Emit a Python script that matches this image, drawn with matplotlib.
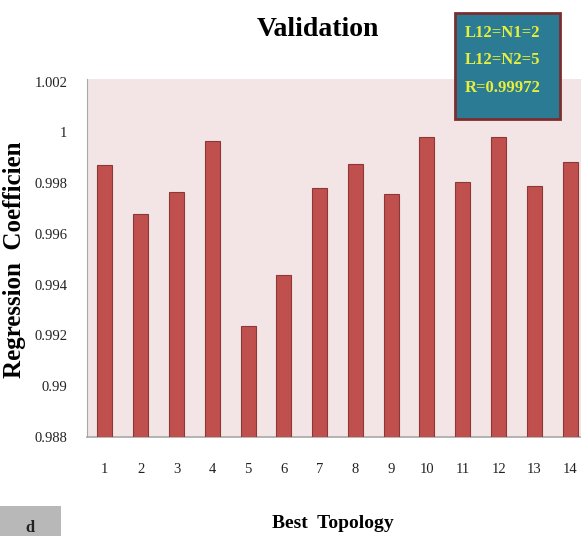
import numpy as np
import matplotlib
matplotlib.use("Agg")
import matplotlib.pyplot as plt
from matplotlib.patches import Rectangle

# topology index and regression coefficient
topologies = [1, 2, 3, 4, 5, 6, 7, 8, 9, 10, 11, 12, 13, 14]
coefficients = [0.99871, 0.99677, 0.99766, 0.99967, 0.99236, 0.99440, 0.99779,
                0.99875, 0.99759, 0.99980, 0.99805, 0.99980, 0.99789, 0.99884]
y_ticks = [0.988, 0.99, 0.992, 0.994, 0.996, 0.998, 1, 1.002]
y_tick_labels = ["0.988", "0.99", "0.992", "0.994", "0.996", "0.998", "1", "1.002"]
box_lines = ["L12=N1=2", "L12=N2=5", "R=0.99972"]

plt.rcParams['font.family'] = ['Liberation Serif', 'DejaVu Serif']

W, H = 581, 536
fig = plt.figure(figsize=(W / 100, H / 100), dpi=100)

# axes run a little past the right edge, like the cropped original
ax = fig.add_axes([87 / W, 1 - 437 / H, 501 / W, 358 / H])
ax.set_facecolor('#f3e5e5')

# data starts at 0.988, so draw bars from that floor
base = y_ticks[0]
heights = np.array(coefficients) - base
ax.bar(topologies, heights, bottom=base, width=0.42,
       color='#c0504d', edgecolor='#8c3836', linewidth=0.8, zorder=3)

ax.set_xlim(0.5, 14.5)
ax.set_ylim(0.988, 1.0021)
ax.set_xticks(topologies)
ax.set_xticklabels([str(t) for t in topologies], fontsize=10.5)
ax.set_yticks(y_ticks)
ax.set_yticklabels(y_tick_labels, fontsize=10.5)
ax.tick_params(axis='both', length=0, colors='#222222')
ax.tick_params(axis='y', pad=14)
ax.tick_params(axis='x', pad=19)

for side in ['top', 'right']:
    ax.spines[side].set_visible(False)
ax.spines['left'].set_color('#a8a8a8')
ax.spines['bottom'].set_color('#a8a8a8')
ax.spines['bottom'].set_linewidth(1.2)

fig.text(318 / W, 1 - 30 / H, 'Validation', ha='center', va='center',
         fontsize=20, fontweight='bold')
fig.text(333 / W, 1 - 523 / H, 'Best  Topology', ha='center', va='center',
         fontsize=14, fontweight='bold')
fig.text(15 / W, 1 - 260 / H, 'Regression  Coefficien', ha='center', va='center',
         rotation=90, fontsize=18, fontweight='bold')

# info box in the top right
fig.patches.append(Rectangle((455 / W, 1 - 119 / H), 105 / W, 106 / H,
                             transform=fig.transFigure, facecolor='#2a7b93',
                             edgecolor='#7a2e2e', linewidth=2, zorder=5))
for i, line in enumerate(box_lines):
    fig.text(465 / W, 1 - (33 + i * 27.5) / H, line, ha='left', va='center',
             fontsize=12, fontweight='bold', color='#e8ef3a', zorder=6)

# grey corner tab at the bottom left
fig.patches.append(Rectangle((0, 0), 61 / W, 30 / H, transform=fig.transFigure,
                             facecolor='#b8b8b8', edgecolor='none'))
fig.text(30 / W, 0, 'd', ha='center', va='bottom', fontsize=12,
         fontweight='bold', color='#222222')

fig.savefig('out.png', dpi=100)
